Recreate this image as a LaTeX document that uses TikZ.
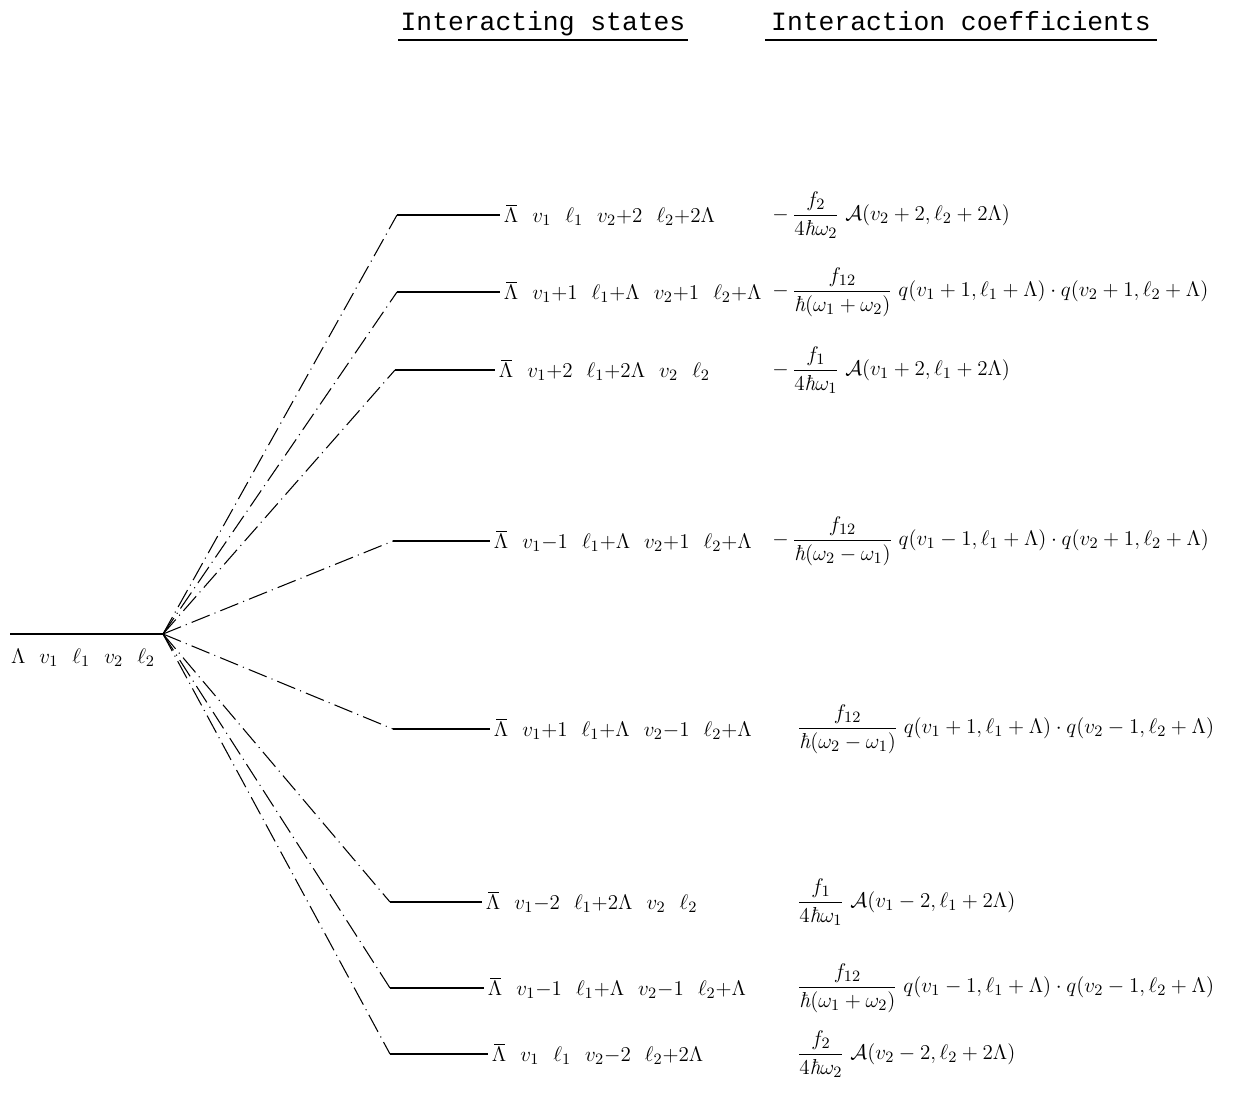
\documentclass[tikz,border=0pt]{standalone}
\usepackage{fontspec}
\usepackage{amsmath}
\newfontfamily\typewr{Liberation Mono}
\newcommand{\hb}{\text{\itshape ħ}}
\newcommand{\Lbar}{\mathord{\rlap{\kern0.1em\rule[0.78em]{0.5em}{0.04em}}\Lambda}}
\usetikzlibrary{positioning}

\begin{document}
\begin{tikzpicture}[
    x=0.02cm, y=-0.02cm,
    level/.style={line width=0.6pt},
    fanline/.style={line width=0.6pt, dash pattern=on 11pt off 3pt on 0.6pt off 3pt},
    state/.style={anchor=west, inner sep=2pt, font=\fontsize{12.3}{15}\selectfont},
    coef/.style={anchor=west, inner sep=0pt, font=\fontsize{12.3}{14}\selectfont},
    heading/.style={font=\typewr\fontsize{15}{18}\selectfont, inner sep=0pt, anchor=base},
]
\useasboundingbox (0,0) rectangle (1245,1093);

% Headings
\node[heading] (hstates) at (543,30) {Interacting states};
\node[heading] (hcoefs)  at (961,30) {Interaction coefficients};
\draw[level] (398,40) -- (688,40);
\draw[level] (765,40) -- (1157,40);

% Ground level
\coordinate (g0)  at (10,634);
\coordinate (fan) at (163,634);
\draw[level] (g0) -- (fan);
\node[state, anchor=center] (ground) at (83,658) {$\Lambda\ \ v_1\ \ \ell_1\ \ v_2\ \ \ell_2$};

% Excited levels
\coordinate (a1) at (397,215);  \coordinate (b1) at (500,215);
\coordinate (a2) at (397,292);  \coordinate (b2) at (500,292);
\coordinate (a3) at (395,370);  \coordinate (b3) at (495,370);
\coordinate (a4) at (393,541);  \coordinate (b4) at (490,541);
\coordinate (a5) at (393,729);  \coordinate (b5) at (490,729);
\coordinate (a6) at (390,902);  \coordinate (b6) at (482,902);
\coordinate (a7) at (390,988);  \coordinate (b7) at (484,988);
\coordinate (a8) at (390,1054); \coordinate (b8) at (488,1054);
\draw[level] (a1) -- (b1);
\draw[level] (a2) -- (b2);
\draw[level] (a3) -- (b3);
\draw[level] (a4) -- (b4);
\draw[level] (a5) -- (b5);
\draw[level] (a6) -- (b6);
\draw[level] (a7) -- (b7);
\draw[level] (a8) -- (b8);

% Fan of interactions
\draw[fanline] (fan) -- (a1);
\draw[fanline] (fan) -- (a2);
\draw[fanline] (fan) -- (a3);
\draw[fanline] (fan) -- (a4);
\draw[fanline] (fan) -- (a5);
\draw[fanline] (fan) -- (a6);
\draw[fanline] (fan) -- (a7);
\draw[fanline] (fan) -- (a8);

% Interacting states
\node[state] (s1) at (b1) {$\Lbar\ \ v_1\ \ \ell_1\ \ v_2{+}2\ \ \ell_2{+}2\Lambda$};
\node[state] (s2) at (b2) {$\Lbar\ \ v_1{+}1\ \ \ell_1{+}\Lambda\ \ v_2{+}1\ \ \ell_2{+}\Lambda$};
\node[state] (s3) at (b3) {$\Lbar\ \ v_1{+}2\ \ \ell_1{+}2\Lambda\ \ v_2\ \ \ell_2$};
\node[state] (s4) at (b4) {$\Lbar\ \ v_1{-}1\ \ \ell_1{+}\Lambda\ \ v_2{+}1\ \ \ell_2{+}\Lambda$};
\node[state] (s5) at (b5) {$\Lbar\ \ v_1{+}1\ \ \ell_1{+}\Lambda\ \ v_2{-}1\ \ \ell_2{+}\Lambda$};
\node[state] (s6) at (b6) {$\Lbar\ \ v_1{-}2\ \ \ell_1{+}2\Lambda\ \ v_2\ \ \ell_2$};
\node[state] (s7) at (b7) {$\Lbar\ \ v_1{-}1\ \ \ell_1{+}\Lambda\ \ v_2{-}1\ \ \ell_2{+}\Lambda$};
\node[state] (s8) at (b8) {$\Lbar\ \ v_1\ \ \ell_1\ \ v_2{-}2\ \ \ell_2{+}2\Lambda$};

% Interaction coefficients
\node[coef] (c1) at (772,215)  {$-\,\dfrac{f_2}{4\hb\omega_2}\;\mathcal{A}(v_2+2,\ell_2+2\Lambda)$};
\node[coef] (c2) at (772,292)  {$-\,\dfrac{f_{12}}{\hb(\omega_1+\omega_2)}\;q(v_1+1,\ell_1+\Lambda)\cdot q(v_2+1,\ell_2+\Lambda)$};
\node[coef] (c3) at (772,370)  {$-\,\dfrac{f_1}{4\hb\omega_1}\;\mathcal{A}(v_1+2,\ell_1+2\Lambda)$};
\node[coef] (c4) at (772,541)  {$-\,\dfrac{f_{12}}{\hb(\omega_2-\omega_1)}\;q(v_1-1,\ell_1+\Lambda)\cdot q(v_2+1,\ell_2+\Lambda)$};
\node[coef] (c5) at (797,729)  {$\dfrac{f_{12}}{\hb(\omega_2-\omega_1)}\;q(v_1+1,\ell_1+\Lambda)\cdot q(v_2-1,\ell_2+\Lambda)$};
\node[coef] (c6) at (797,902)  {$\dfrac{f_1}{4\hb\omega_1}\;\mathcal{A}(v_1-2,\ell_1+2\Lambda)$};
\node[coef] (c7) at (797,988)  {$\dfrac{f_{12}}{\hb(\omega_1+\omega_2)}\;q(v_1-1,\ell_1+\Lambda)\cdot q(v_2-1,\ell_2+\Lambda)$};
\node[coef] (c8) at (797,1054) {$\dfrac{f_2}{4\hb\omega_2}\;\mathcal{A}(v_2-2,\ell_2+2\Lambda)$};

\end{tikzpicture}
\end{document}
